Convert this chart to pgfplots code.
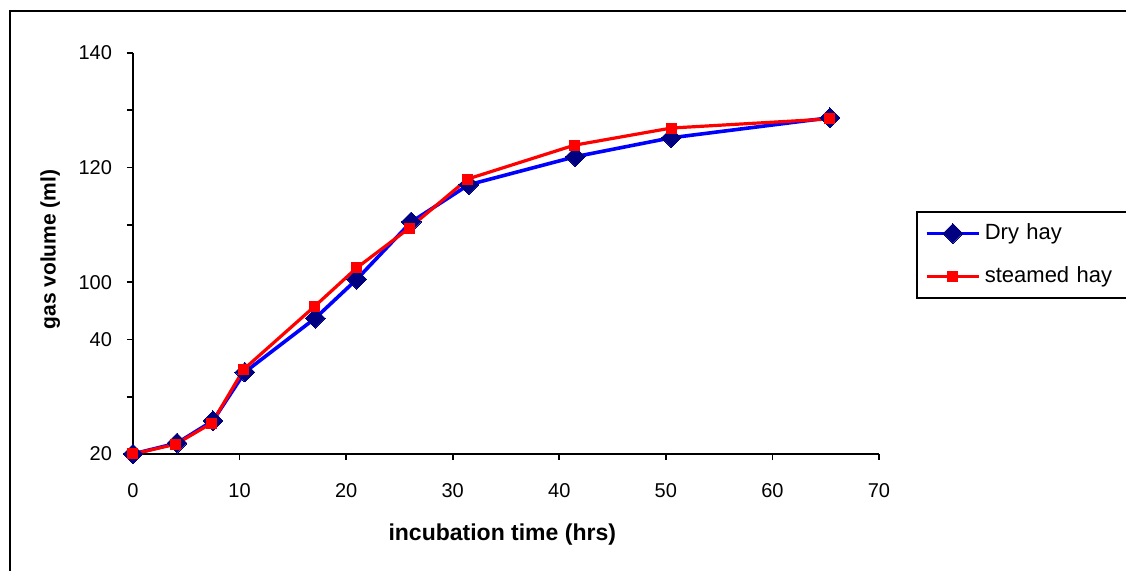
\documentclass[border=0pt]{standalone}
\usepackage{fontspec}
\setmainfont{Liberation Sans}
\usepackage{pgfplots}
\pgfplotsset{compat=1.18}
\definecolor{dryline}{RGB}{0,0,255}
\definecolor{drymark}{RGB}{0,0,128}
\definecolor{steamred}{RGB}{255,0,0}

\begin{document}
\begin{tikzpicture}
% picture frame: 1px = 0.5pt, axis origin at pixel (133,454)
\path[use as bounding box] (-66.5pt,-58.5pt) rectangle (496.5pt,227pt);
\draw[line width=1.2pt] (-61.5pt,-60pt) -- (-61.5pt,221.5pt) -- (500pt,221.5pt);
\begin{axis}[
    scale only axis,
    width=373pt, height=200.5pt,
    xmin=0, xmax=70,
    ymin=0, ymax=7,
    axis x line=bottom, axis y line=left,
    axis line style={-, line width=1pt, black},
    xtick={0,10,...,70},
    ytick={0,1,...,7},
    yticklabels={20,,40,100,,120,,140},
    tick align=outside,
    major tick length=3pt,
    tick style={black, line width=0.8pt},
    /pgf/number format/assume math mode=true,
    tick label style={font=\fontsize{10}{12}\selectfont},
    yticklabel style={xshift=-4pt},
    xticklabel style={yshift=-8pt},
    xlabel={\textbf{incubation time (hrs)}},
    ylabel={\textbf{gas volume (ml)}},
    xlabel style={at={(axis description cs:0.495,-0.202)}, anchor=center, font=\fontsize{11.5}{13}\selectfont},
    ylabel style={at={(axis description cs:-0.111,0.51)}, anchor=center, font=\fontsize{10.5}{13}\selectfont},
    clip=false,
    legend style={at={(axis description cs:1.0496,0.606)}, anchor=north west,
        draw=black, line width=0.9pt, font=\fontsize{11}{13}\selectfont,
        row sep=8pt, inner xsep=4pt, inner ysep=4pt,
        nodes={text width=75pt}},
    legend cell align=left,
    legend image code/.code={\draw[mark repeat=2,mark phase=2] plot coordinates {(0cm,0cm) (0.46cm,0cm) (0.92cm,0cm)};},
]
\addplot[color=dryline, line width=1.8pt, mark=square*, mark size=3.5pt,
    mark options={rotate=45, fill=drymark, draw=drymark, line width=0pt}]
    coordinates {(0,0) (4.13,0.19) (7.5,0.58) (10.5,1.43) (17.1,2.37) (21.0,3.05)
                 (26.1,4.05) (31.5,4.70) (41.5,5.19) (50.5,5.52) (65.4,5.87)};
\addplot[color=steamred, line width=1.6pt, mark=square*, mark size=2.5pt,
    mark options={fill=steamred, draw=steamred, line width=0pt}]
    coordinates {(0,0) (4.0,0.17) (7.4,0.54) (10.4,1.48) (17.0,2.57) (21.0,3.25)
                 (25.9,3.94) (31.4,4.80) (41.4,5.39) (50.5,5.69) (65.4,5.85)};
\legend{Dry hay, steamed hay}
\end{axis}
\end{tikzpicture}
\end{document}
